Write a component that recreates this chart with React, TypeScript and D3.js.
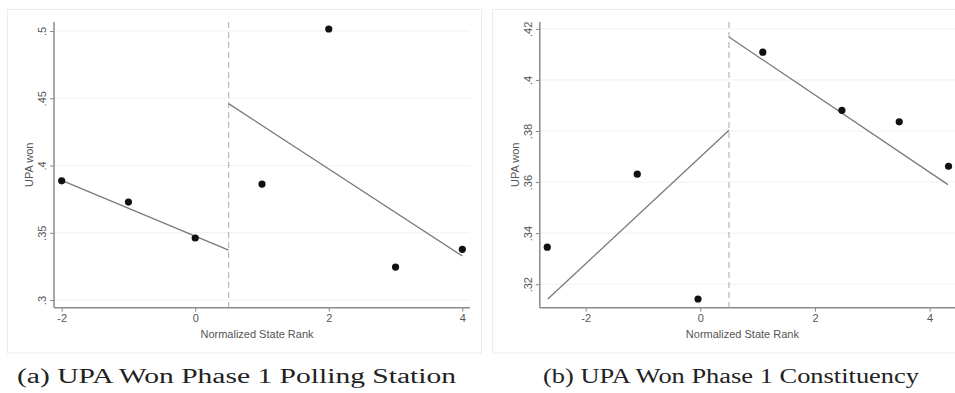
import React, { useEffect, useRef } from "react";
import * as d3 from "d3";

// panel (a): UPA won, phase 1 polling station
const rankA = [-2, -1, 0, 1, 2, 3, 4];
const wonA = [0.3886, 0.3728, 0.3461, 0.3862, 0.5015, 0.3245, 0.3377];
const fitLeftA = [[-2, 0.389], [0.5, 0.3371]];
const fitRightA = [[0.5, 0.446], [4, 0.3327]];
const yTicksA = [0.3, 0.35, 0.4, 0.45, 0.5];
const yLabelsA = [".3", ".35", ".4", ".45", ".5"];
const xTicksA = [-2, 0, 2, 4];

// panel (b): UPA won, phase 1 constituency
const rankB = [-2.67, -1.1, -0.04, 1.09, 2.47, 3.47, 4.33];
const wonB = [0.3345, 0.3631, 0.3142, 0.4109, 0.3881, 0.3836, 0.3662];
const fitLeftB = [[-2.66, 0.3142], [0.5, 0.3803]];
const fitRightB = [[0.5, 0.4168], [4.32, 0.359]];
const yTicksB = [0.32, 0.34, 0.36, 0.38, 0.4, 0.42];
const yLabelsB = [".32", ".34", ".36", ".38", ".4", ".42"];
const xTicksB = [-2, 0, 2, 4];

const cutoff = 0.5;

export default function App() {
  const svgRef = useRef<SVGSVGElement>(null);

  useEffect(() => {
    const svg = d3.select(svgRef.current);
    svg.selectAll("*").remove();

    const panels = [
      {
        frame: [7.5, 9.5, 481.5, 353],
        x: d3.scaleLinear().domain([-2.115, 4.115]).range([54, 470]),
        y: d3.scaleLinear().domain([0.2943, 0.5067]).range([307.7, 22]),
        xr: [54, 470],
        rank: rankA, won: wonA, fits: [fitLeftA, fitRightA],
        yTicks: yTicksA, yLabels: yLabelsA, xTicks: xTicksA,
        caption: "(a) UPA Won Phase 1 Polling Station", capX: [17, 456],
      },
      {
        frame: [492.5, 9.5, 970, 353],
        x: d3.scaleLinear().domain([-2.8, 4.53]).range([539.8, 960]),
        y: d3.scaleLinear().domain([0.3108, 0.4227]).range([307.7, 22]),
        xr: [539.8, 960],
        rank: rankB, won: wonB, fits: [fitLeftB, fitRightB],
        yTicks: yTicksB, yLabels: yLabelsB, xTicks: xTicksB,
        caption: "(b) UPA Won Phase 1 Constituency", capX: [543, 919],
      },
    ];

    const sans = "Liberation Sans, Arial, sans-serif";

    panels.forEach((p) => {
      const g = svg.append("g");
      const [fx0, fy0, fx1, fy1] = p.frame;
      g.append("rect")
        .attr("x", fx0).attr("y", fy0)
        .attr("width", fx1 - fx0).attr("height", fy1 - fy0)
        .attr("fill", "#fff").attr("stroke", "#ececec");

      const [y0, y1] = p.y.range();
      const x0 = p.xr[0];

      // gridlines
      g.selectAll(".grid")
        .data(p.yTicks)
        .join("line")
        .attr("x1", x0).attr("x2", p.xr[1])
        .attr("y1", (d) => p.y(d)).attr("y2", (d) => p.y(d))
        .attr("stroke", "#f1f1f1").attr("stroke-width", 1);

      // cutoff
      g.append("line")
        .attr("x1", p.x(cutoff)).attr("x2", p.x(cutoff))
        .attr("y1", y1).attr("y2", y0)
        .attr("stroke", "#bdbdbd").attr("stroke-width", 1.3)
        .attr("stroke-dasharray", "6,4");

      // axes
      const yAxis = d3.axisLeft(p.y)
        .tickValues(p.yTicks)
        .tickFormat((_, i) => p.yLabels[i])
        .tickSize(4).tickPadding(3);
      const ya = g.append("g").attr("transform", `translate(${x0},0)`).call(yAxis);
      ya.select(".domain").attr("stroke", "#8a8a8a").attr("stroke-width", 1.5)
        .attr("d", `M0,${y1}V${y0}`);
      ya.selectAll(".tick line").attr("stroke", "#8a8a8a");
      ya.selectAll(".tick text")
        .attr("fill", "#555").attr("font-size", 11).attr("font-family", sans)
        .attr("text-anchor", "middle").attr("x", 0).attr("dy", 0)
        .attr("transform", "translate(-8,0) rotate(-90)");

      const xAxis = d3.axisBottom(p.x)
        .tickValues(p.xTicks)
        .tickFormat(d3.format("d"))
        .tickSize(4).tickPadding(3);
      const xa = g.append("g").attr("transform", `translate(0,${y0})`).call(xAxis);
      xa.select(".domain").attr("stroke", "#8a8a8a").attr("stroke-width", 1.5)
        .attr("d", `M${x0},0H${p.xr[1]}`);
      xa.selectAll(".tick line").attr("stroke", "#8a8a8a");
      xa.selectAll(".tick text")
        .attr("fill", "#555").attr("font-size", 11).attr("font-family", sans)
        .text((d: any) => (d < 0 ? "-" + Math.abs(d) : String(d)));

      // titles
      g.append("text")
        .attr("x", (x0 + Math.min(p.xr[1], 955)) / 2 - 5)
        .attr("y", 338)
        .attr("text-anchor", "middle")
        .attr("font-size", 11).attr("fill", "#555")
        .attr("font-family", sans)
        .text("Normalized State Rank");
      g.append("text")
        .attr("transform", `translate(${x0 - 21},${(y0 + y1) / 2}) rotate(-90)`)
        .attr("text-anchor", "middle")
        .attr("font-size", 11).attr("fill", "#555")
        .attr("font-family", sans)
        .text("UPA won");

      // fit lines
      const line = d3.line<number[]>().x((d) => p.x(d[0])).y((d) => p.y(d[1]));
      p.fits.forEach((f) => {
        g.append("path").attr("d", line(f))
          .attr("fill", "none").attr("stroke", "#7a7a7a").attr("stroke-width", 1.3);
      });

      // points
      g.selectAll(".pt")
        .data(p.rank.map((r, i) => [r, p.won[i]]))
        .join("circle")
        .attr("cx", (d) => p.x(d[0])).attr("cy", (d) => p.y(d[1]))
        .attr("r", 3.6).attr("fill", "#111");

      // caption
      g.append("text")
        .attr("x", p.capX[0]).attr("y", 383)
        .attr("textLength", p.capX[1] - p.capX[0])
        .attr("lengthAdjust", "spacingAndGlyphs")
        .attr("font-size", 20).attr("fill", "#222")
        .attr("font-family", "Liberation Serif, DejaVu Serif, serif")
        .text(p.caption);
    });
  }, []);

  return (
    <svg
      ref={svgRef}
      width={955}
      height={393}
      style={{ position: "absolute", left: 0, top: 0, background: "#fff" }}
    />
  );
}
